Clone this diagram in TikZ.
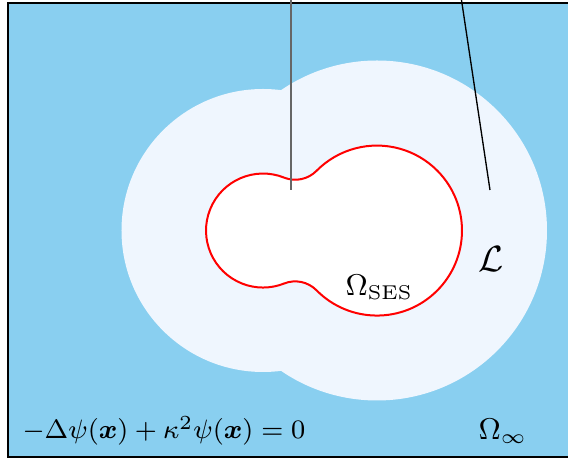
\documentclass[tikz,border=0pt]{standalone}
\usepackage{amsmath,amssymb}
\usepackage{xcolor}
\usepackage{tikz}
\usetikzlibrary{positioning}
\definecolor{solvent}{RGB}{137,207,240}
\definecolor{ionlayer}{RGB}{239,246,254}
\tikzset{
  bath/.style={draw=black, line width=0.4pt, fill=solvent},
  layer/.style={fill=ionlayer},
  ses/.style={draw=red, line width=0.6pt, fill=white},
  lead/.style={line width=0.4pt},
  lbl/.style={inner sep=0pt, anchor=base west, font=\fontsize{9}{11}\selectfont},
}
\begin{document}
\begin{tikzpicture}[x=0.3pt, y=-0.3pt]
\clip (0,0) rectangle (568,463);
\path[bath] (8,3) rectangle (600,457);
% ion exclusion layer: the two enlarged spheres
\path[layer] (263,230.5) circle[radius=141.5] (377,230.5) circle[radius=170];
% molecular surface, with the two re-entrant probe arcs
\path[ses] (284.1,177.6) arc[start angle=-68.3, end angle=-291.7, radius=57]
  arc[start angle=-111.7, end angle=-44.65, radius=30]
  arc[start angle=135.35, end angle=-135.35, radius=85]
  arc[start angle=44.65, end angle=111.7, radius=30] -- cycle;
\coordinate (topA) at (291.5,0);
\coordinate (tipA) at (291.5,190);
\coordinate (topB) at (461.5,0);
\coordinate (tipB) at (490,190);
\draw[lead, black!60, line width=0.6pt] (topA) -- (tipA);
\draw[lead] (topB) -- (tipB);
\node[lbl] (omses) at (345,296) {$\Omega_{\mathrm{SES}}$};
\node[lbl, font=\fontsize{10.8}{13}\selectfont] (lay) at (478,272) {$\mathcal{L}$};
\node[lbl, font=\fontsize{8.2}{10}\selectfont] (pde) at (22,439) {$-\Delta\psi(\boldsymbol{x})+\kappa^2\psi(\boldsymbol{x})=0$};
\node[lbl] (ominf) at (478,440) {$\Omega_\infty$};
\end{tikzpicture}
\end{document}
